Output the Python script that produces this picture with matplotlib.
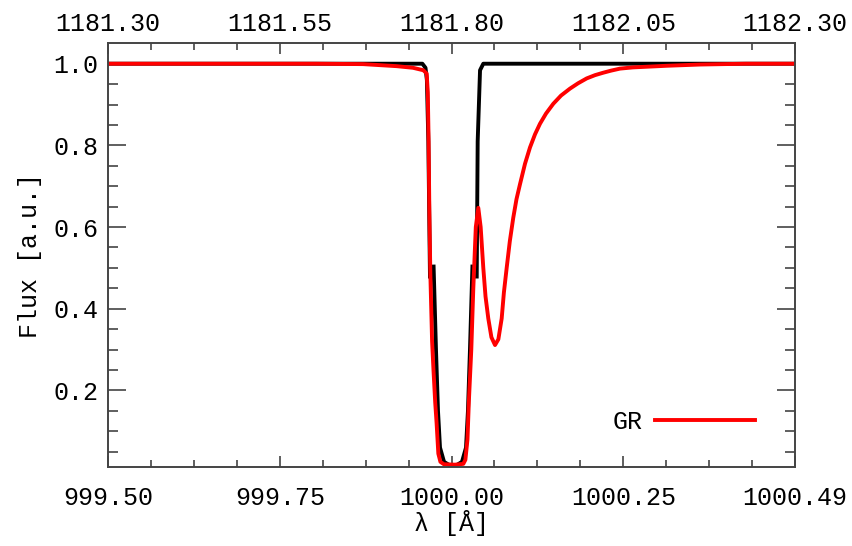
import matplotlib
matplotlib.use("Agg")
import matplotlib.pyplot as plt
from matplotlib.ticker import FixedLocator
import numpy as np

# wavelength (Angstrom) and flux
ref_wave = [999.50, 999.953, 999.9575, 999.9595, 999.9616, 999.964,
            np.nan,
            999.9691, 999.9726, 999.9755, 999.9784, 999.9842, 999.9928,
            1000.0015, 1000.0101, 1000.0159, 1000.0187, 1000.0216, 1000.0252,
            np.nan,
            1000.0313, 1000.0327, 1000.0361, 1000.0408, 1000.49]
ref_flux = [1.0, 1.0, 0.99, 0.96, 0.81, 0.474,
            np.nan,
            0.508, 0.30, 0.15, 0.06, 0.025, 0.016,
            0.016, 0.025, 0.06, 0.15, 0.30, 0.508,
            np.nan,
            0.474, 0.81, 0.984, 1.0, 1.0]

gr_wave = [999.50, 999.80, 999.8675, 999.916, 999.9395, 999.9544, 999.9592,
           999.9608, 999.962, 999.963, 999.9645, 999.967, 999.969, 999.9715,
           999.9735, 999.976, 999.979, 999.984, 1000.000, 1000.012, 1000.015,
           1000.018, 1000.020, 1000.0235, 1000.0264, 1000.030, 1000.0336,
           1000.0370, 1000.0408, 1000.044, 1000.048, 1000.0525, 1000.0577,
           1000.0625, 1000.0673, 1000.0705, 1000.0745, 1000.079, 1000.084,
           1000.0886, 1000.0937, 1000.1009, 1000.1081, 1000.1153, 1000.1225,
           1000.1312, 1000.1417, 1000.1528, 1000.1657, 1000.1773, 1000.1898,
           1000.2018, 1000.2137, 1000.2248, 1000.2378, 1000.2565, 1000.3055,
           1000.3531, 1000.42, 1000.49]
gr_flux = [1.0, 1.0, 0.999, 0.994, 0.99, 0.984, 0.976,
           0.93, 0.81, 0.647, 0.484, 0.32, 0.25, 0.17,
           0.12, 0.045, 0.025, 0.019, 0.018, 0.02, 0.03,
           0.08, 0.173, 0.30, 0.45, 0.60, 0.647,
           0.60, 0.50, 0.43, 0.376, 0.33, 0.311,
           0.325, 0.376, 0.44, 0.50, 0.565, 0.623,
           0.668, 0.705, 0.755, 0.795, 0.827, 0.853,
           0.878, 0.902, 0.922, 0.939, 0.952, 0.964,
           0.972, 0.978, 0.983, 0.988, 0.991, 0.995,
           0.998, 1.0, 1.0]

bottom_labels = ["999.50", "999.75", "1000.00", "1000.25", "1000.49"]
top_labels = ["1181.30", "1181.55", "1181.80", "1182.05", "1182.30"]

xmin, xmax = 999.50, 1000.49
ymin, ymax = 0.013, 1.05

plt.rcParams['font.family'] = ['Liberation Mono', 'DejaVu Sans Mono']
plt.rcParams['font.size'] = 18
axcol = '#444444'

fig = plt.figure(figsize=(8.52, 5.46), dpi=100)
ax = fig.add_axes([0.1268, 0.1452, 0.8063, 0.7755])

ax.plot(ref_wave, ref_flux, color='black', lw=2.8, solid_capstyle='butt')
ax.plot(gr_wave, gr_flux, color='#ff0000', lw=2.8, label='GR')

ax.set_xlim(xmin, xmax)
ax.set_ylim(ymin, ymax)

major_x = np.linspace(xmin, xmax, 5)
minor_x = np.linspace(xmin, xmax, 17)
ax.xaxis.set_major_locator(FixedLocator(major_x))
ax.xaxis.set_minor_locator(FixedLocator(minor_x))
ax.set_xticklabels(bottom_labels)
ax.yaxis.set_major_locator(FixedLocator([0.2, 0.4, 0.6, 0.8, 1.0]))
ax.yaxis.set_minor_locator(FixedLocator(np.arange(0.05, 1.05, 0.05)))
ax.set_yticklabels(["0.2", "0.4", "0.6", "0.8", "1.0"])

ax.tick_params(axis='x', which='major', direction='in', length=8, width=1.2,
               color=axcol, pad=14, bottom=True, top=False)
ax.tick_params(axis='x', which='minor', direction='in', length=5, width=1.2,
               color=axcol, bottom=True, top=False)
ax.tick_params(axis='y', which='major', direction='in', length=13, width=1.2,
               color=axcol, pad=7, left=True, right=True)
ax.tick_params(axis='y', which='minor', direction='in', length=7, width=1.2,
               color=axcol, left=True, right=True)
for s in ax.spines.values():
    s.set_color(axcol)
    s.set_linewidth(1.4)

ax.set_xlabel("λ [Å]", labelpad=0)
ax.set_ylabel("Flux [a.u.]", labelpad=8)

top = ax.twiny()
top.set_xlim(xmin, xmax)
top.xaxis.set_major_locator(FixedLocator(major_x))
top.xaxis.set_minor_locator(FixedLocator(minor_x))
top.set_xticklabels(top_labels)
top.tick_params(axis='x', which='major', direction='in', length=8, width=1.2,
                color=axcol, pad=5)
top.tick_params(axis='x', which='minor', direction='in', length=5, width=1.2,
                color=axcol)
for s in top.spines.values():
    s.set_visible(False)

ax.legend(loc='center right', bbox_to_anchor=(0.942, 0.1056), frameon=False,
          markerfirst=False, handlelength=4.0, handletextpad=0.5,
          borderpad=0, borderaxespad=0)

fig.savefig("out.png", dpi=100)
